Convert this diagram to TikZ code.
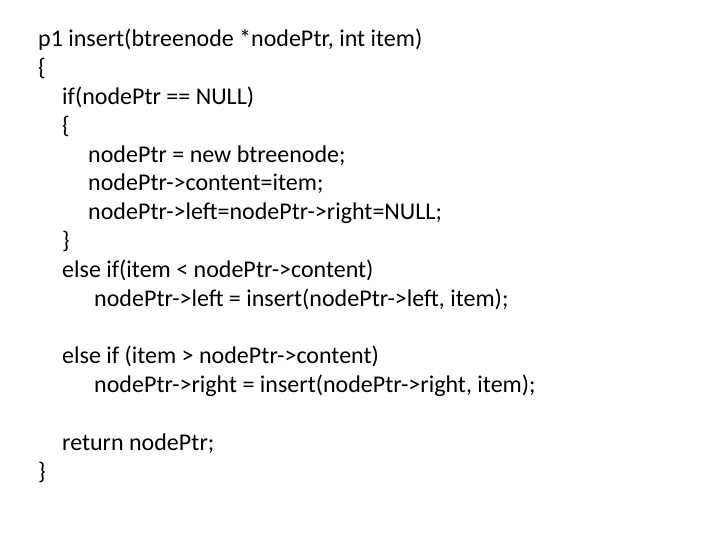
\documentclass[tikz,border=0pt]{standalone}
\usepackage{fontspec}
\setmainfont{Carlito}
\usepackage{tikz}
\usetikzlibrary{positioning}

\begin{document}
\begin{tikzpicture}[x=1pt, y=1pt, codeline/.style={anchor=base west, inner sep=0pt, font=\fontsize{24}{28.8}\selectfont}]

    \useasboundingbox (0,0) rectangle (720,-540);

    %Nodes
    \node[codeline](head) at (38,-47) {p1 insert(btreenode *nodePtr, int item)};
    \node[codeline](open) at (38,-75.8) {\{};
    \node[codeline](if_null) at (62,-104.6) {if(nodePtr == NULL)};
    \node[codeline](if_open) at (62,-133.4) {\{};
    \node[codeline](new_node) at (88,-162.2) {nodePtr = new btreenode;};
    \node[codeline](set_content) at (88,-191) {nodePtr->content=item;};
    \node[codeline](set_null) at (88,-219.8) {nodePtr->left=nodePtr->right=NULL;};
    \node[codeline](if_close) at (62,-248.6) {\}};
    \node[codeline](if_less) at (62,-277.4) {else if(item < nodePtr->content)};
    \node[codeline](go_left) at (94,-306.2) {nodePtr->left = insert(nodePtr->left, item);};
    \node[codeline](if_more) at (62,-363.8) {else if (item > nodePtr->content)};
    \node[codeline](go_right) at (94,-392.6) {nodePtr->right = insert(nodePtr->right, item);};
    \node[codeline](ret) at (62,-450.2) {return nodePtr;};
    \node[codeline](close) at (38,-479) {\}};

\end{tikzpicture}
\end{document}
